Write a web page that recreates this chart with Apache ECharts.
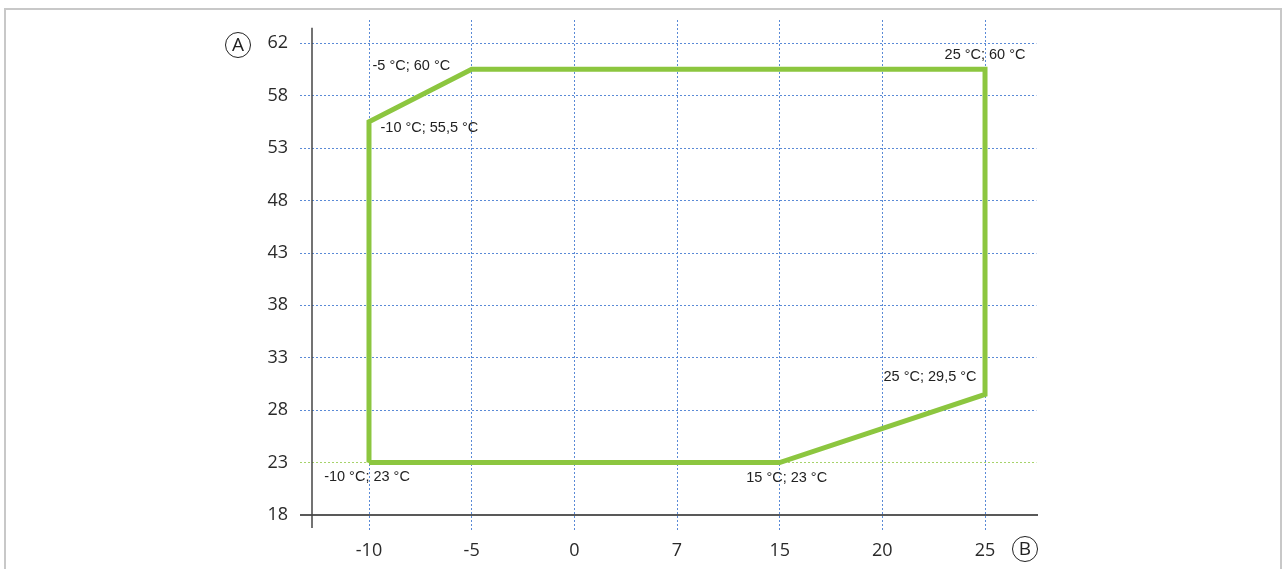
<!DOCTYPE html>
<html>
<head>
<meta charset="utf-8">
<script src="https://cdn.jsdelivr.net/npm/echarts@6/dist/echarts.min.js"></script>
<style>
  html, body { margin: 0; padding: 0; background: #ffffff; }
  #chart { width: 1283px; height: 569px; }
</style>
</head>
<body>
<div id="chart"></div>
<script>
// Outdoor temperature (B) categories, evenly spaced along the x axis
const xCategories = [-10, -5, 0, 7, 15, 20, 25];
// Flow temperature (A) tick values, evenly spaced along the y axis
const yTicks = [18, 23, 28, 33, 38, 43, 48, 53, 58, 62];

// Operating envelope corners (outdoor °C, flow °C)
const envelopeX = [-10, -10, -5, 25, 25, 15];
const envelopeY = [23, 55.5, 60, 60, 29.5, 23];
const cornerLabels = [
  '-10 °C; 23 °C',
  '-10 °C; 55,5 °C',
  '-5 °C; 60 °C',
  '25 °C; 60 °C',
  '25 °C; 29,5 °C',
  '15 °C; 23 °C'
];

// Piecewise-linear position of a value on an evenly spaced tick scale
function tickPos(ticks, v) {
  for (let i = 0; i < ticks.length - 1; i++) {
    const a = ticks[i], b = ticks[i + 1];
    if (v >= a && v <= b) return i + (v - a) / (b - a);
  }
  return v < ticks[0] ? 0 : ticks.length - 1;
}

const labelPlacement = [
  { position: 'bottom', distance: 6, offset: [-2, 0] },
  { position: 'right', distance: 11, offset: [0, 6] },
  { position: 'left', distance: 21, offset: [0, -3] },
  { position: 'top', distance: 6, offset: [0, 0] },
  { position: 'left', distance: 8, offset: [0, -17] },
  { position: 'bottom', distance: 7, offset: [7, 0] }
];

const envelopeData = envelopeX.map((x, i) => ({
  value: [tickPos(xCategories, x), tickPos(yTicks, envelopeY[i])],
  label: Object.assign({
    show: true,
    formatter: cornerLabels[i],
    color: '#222',
    fontSize: 14.5,
    fontFamily: 'Liberation Sans, Arial, sans-serif'
  }, labelPlacement[i])
}));
// close the outline
envelopeData.push({ value: envelopeData[0].value.slice(), label: { show: false } });

const X_MIN = -0.672, X_MAX = 6.516;
const Y_MIN = -0.286, Y_MAX = 9.44;
const Y_AXIS_AT = -0.555;

const gridBlue = '#5a8ad6';
const gridGreen = '#a6d36a';

const markLines = [];
// vertical guides at each category
xCategories.forEach((c, i) => {
  markLines.push({ xAxis: i, lineStyle: { color: gridBlue, type: [2, 2], width: 1 } });
});
// horizontal guides at each tick above the baseline
yTicks.forEach((t, i) => {
  if (i === 0) return;
  markLines.push([
    { coord: [X_MIN, i], lineStyle: { color: t === 23 ? gridGreen : gridBlue, type: [2, 2], width: 1 } },
    { coord: [6.5, i] }
  ]);
});
// axis lines
markLines.push([
  { coord: [X_MIN, 0], lineStyle: { color: '#222', type: 'solid', width: 1.5 } },
  { coord: [X_MAX, 0] }
]);
markLines.push([
  { coord: [Y_AXIS_AT, -0.25], lineStyle: { color: '#444', type: 'solid', width: 1.5 } },
  { coord: [Y_AXIS_AT, 9.29] }
]);

const tickFont = { color: '#2a2a2a', fontSize: 18, fontFamily: 'Open Sans, sans-serif' };

const chart = echarts.init(document.getElementById('chart'));
chart.setOption({
  animation: false,
  backgroundColor: '#ffffff',
  grid: { left: 300, right: 245, top: 20, bottom: 39 },
  xAxis: {
    type: 'value',
    min: X_MIN,
    max: X_MAX,
    axisLine: { show: false },
    axisTick: { show: false },
    splitLine: { show: false },
    axisLabel: Object.assign({
      customValues: xCategories.map((c, i) => i),
      formatter: v => String(xCategories[Math.round(v)]),
      margin: 12
    }, tickFont)
  },
  yAxis: {
    type: 'value',
    min: Y_MIN,
    max: Y_MAX,
    axisLine: { show: false },
    axisTick: { show: false },
    splitLine: { show: false },
    axisLabel: Object.assign({
      customValues: yTicks.map((t, i) => i),
      formatter: v => String(yTicks[Math.round(v)]),
      margin: 12
    }, tickFont)
  },
  graphic: [
    {
      type: 'rect', silent: true, z: 0,
      shape: { x: 5, y: 9, width: 1276, height: 620 },
      style: { fill: 'none', stroke: '#c8c8c8', lineWidth: 2 }
    },
    {
      type: 'circle', silent: true,
      shape: { cx: 238, cy: 45, r: 12.5 },
      style: { fill: '#fff', stroke: '#222', lineWidth: 1 }
    },
    {
      type: 'text', silent: true, x: 238, y: 46,
      style: { text: 'A', fill: '#222', font: '19px Open Sans, sans-serif', align: 'center', verticalAlign: 'middle' }
    },
    {
      type: 'circle', silent: true,
      shape: { cx: 1025, cy: 549, r: 12.5 },
      style: { fill: '#fff', stroke: '#222', lineWidth: 1 }
    },
    {
      type: 'text', silent: true, x: 1025, y: 550,
      style: { text: 'B', fill: '#222', font: '19px Open Sans, sans-serif', align: 'center', verticalAlign: 'middle' }
    }
  ],
  series: [
    {
      type: 'line',
      data: envelopeData,
      showSymbol: true,
      symbol: 'circle',
      symbolSize: 1,
      itemStyle: { color: 'rgba(0,0,0,0)' },
      lineStyle: { color: '#8cc63f', width: 5, join: 'miter' },
      z: 5,
      markLine: {
        silent: true,
        symbol: ['none', 'none'],
        label: { show: false },
        z: 1,
        data: markLines
      }
    }
  ]
});
</script>
</body>
</html>
